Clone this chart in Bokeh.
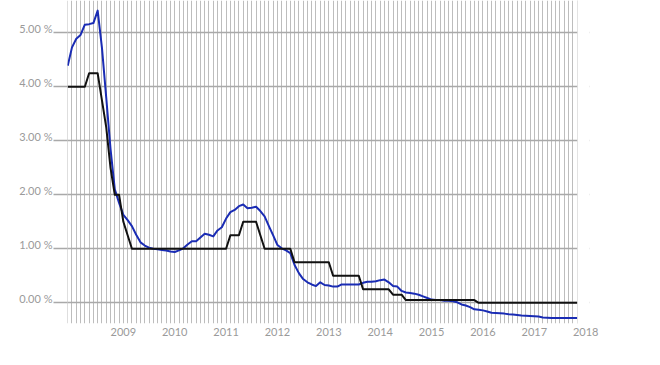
from bokeh.plotting import figure
from bokeh.models import (Range1d, FixedTicker, PrintfTickFormatter, LinearAxis,
                          CustomJSTickFormatter, BoxAnnotation)
from bokeh.embed import file_html
from bokeh.resources import INLINE

# monthly observations (index 0 = first month on the chart)
rate_blue = [
    4.39, 4.73, 4.89, 4.96, 5.15, 5.16, 5.18, 5.41, 4.72, 3.80,
    2.85, 2.10, 1.85, 1.63, 1.53, 1.42, 1.26, 1.12, 1.06, 1.02,
    1.00, 0.99, 0.98, 0.97, 0.95, 0.94, 0.97, 1.01, 1.08, 1.14,
    1.14, 1.21, 1.28, 1.26, 1.23, 1.34, 1.40, 1.56, 1.68, 1.72,
    1.79, 1.82, 1.75, 1.76, 1.78, 1.70, 1.60, 1.42, 1.25, 1.07,
    1.01, 0.97, 0.92, 0.70, 0.55, 0.44, 0.38, 0.34, 0.31, 0.38,
    0.33, 0.32, 0.30, 0.30, 0.34, 0.34, 0.34, 0.34, 0.34, 0.37,
    0.39, 0.39, 0.40, 0.42, 0.43, 0.38, 0.31, 0.30, 0.22, 0.19,
    0.18, 0.17, 0.15, 0.12, 0.09, 0.06, 0.05, 0.05, 0.04, 0.04,
    0.03, 0.01, -0.03, -0.05, -0.08, -0.12, -0.13, -0.14, -0.16, -0.185,
    -0.19, -0.195, -0.20, -0.21, -0.215, -0.225, -0.235, -0.24, -0.245, -0.25,
    -0.255, -0.27, -0.275, -0.28, -0.28, -0.28, -0.28, -0.28, -0.28, -0.28,
]

rate_black = (
    [4.00] * 5 + [4.25] * 3 + [3.75, 3.25, 2.50, 2.00, 2.00, 1.50, 1.25]
    + [1.00] * 23 + [1.25] * 3 + [1.50] * 4 + [1.25] + [1.00] * 7
    + [0.75] * 9 + [0.50] * 7 + [0.25] * 7 + [0.15] * 3 + [0.05] * 17
    + [0.00] * 24
)

months = list(range(len(rate_blue)))
year_labels = ["2009", "2010", "2011", "2012", "2013", "2014", "2015", "2016", "2017", "2018"]
y_ticks = [0, 1, 2, 3, 4, 5]

# year labels sit one month after the January gridline
year_ticks = [12 * (k + 1) + 1 for k in range(len(year_labels))]

n = len(months)
x_end = year_ticks[-1] + 0.9
p = figure(width=650, height=360, output_backend="svg", toolbar_location=None,
           title=None,
           x_range=Range1d(-0.05, x_end), y_range=Range1d(-0.383, 5.598),
           min_border_left=67, min_border_right=61, min_border_top=0, min_border_bottom=37)
p.outline_line_color = None
p.background_fill_color = "white"
p.border_fill_color = "white"

xa = p.xaxis[0]
xa.ticker = FixedTicker(ticks=year_ticks)
xa.major_label_overrides = {t: lab for t, lab in zip(year_ticks, year_labels)}
xa.axis_line_color = None
xa.major_tick_line_color = None
xa.minor_tick_line_color = None
xa.major_tick_out = 0
xa.major_tick_in = 0
xa.major_label_standoff = 4
xa.major_label_text_font = "Lato"
xa.major_label_text_font_size = "11px"
xa.major_label_text_color = "#9a9a9a"

p.xgrid.ticker = FixedTicker(ticks=months)
p.xgrid.grid_line_color = "#bdbdbd"
p.xgrid.grid_line_width = 1

p.ygrid.ticker = FixedTicker(ticks=y_ticks)
p.ygrid.grid_line_color = "#a9a9a9"
p.ygrid.grid_line_width = 1.5

# blank out the grid to the right of the last month
p.add_layout(BoxAnnotation(left=months[-1] + 0.08, fill_color="white", fill_alpha=1.0,
                           line_color=None, level="underlay"))

# inner left axis: only the tick marks that extend the gridlines
ya = p.yaxis[0]
ya.ticker = FixedTicker(ticks=y_ticks)
ya.formatter = CustomJSTickFormatter(code="return ''")
ya.axis_line_color = None
ya.major_tick_out = 14
ya.major_tick_in = 0
ya.major_tick_line_color = "#a9a9a9"
ya.major_tick_line_width = 1.5
ya.minor_tick_line_color = None
ya.major_label_standoff = 0

# outer left axis: the labels, drawn just above their gridline
p.extra_y_ranges = {"lab": Range1d(-0.383 - 0.075, 5.598 - 0.075)}
ylab = LinearAxis(y_range_name="lab", ticker=FixedTicker(ticks=y_ticks),
                  formatter=PrintfTickFormatter(format="%.2f %%"))
ylab.axis_line_color = None
ylab.major_tick_line_color = None
ylab.minor_tick_line_color = None
ylab.major_tick_out = 0
ylab.major_tick_in = 0
ylab.major_label_standoff = 1
ylab.major_label_text_font = "Lato"
ylab.major_label_text_font_size = "11px"
ylab.major_label_text_color = "#9a9a9a"
p.add_layout(ylab, "left")

p.line(months, rate_blue, line_color="#1a2cb4", line_width=2, line_join="round")
p.line(months, rate_black, line_color="#111111", line_width=2, line_join="round")

open("out.html", "w").write(file_html(p, INLINE))
